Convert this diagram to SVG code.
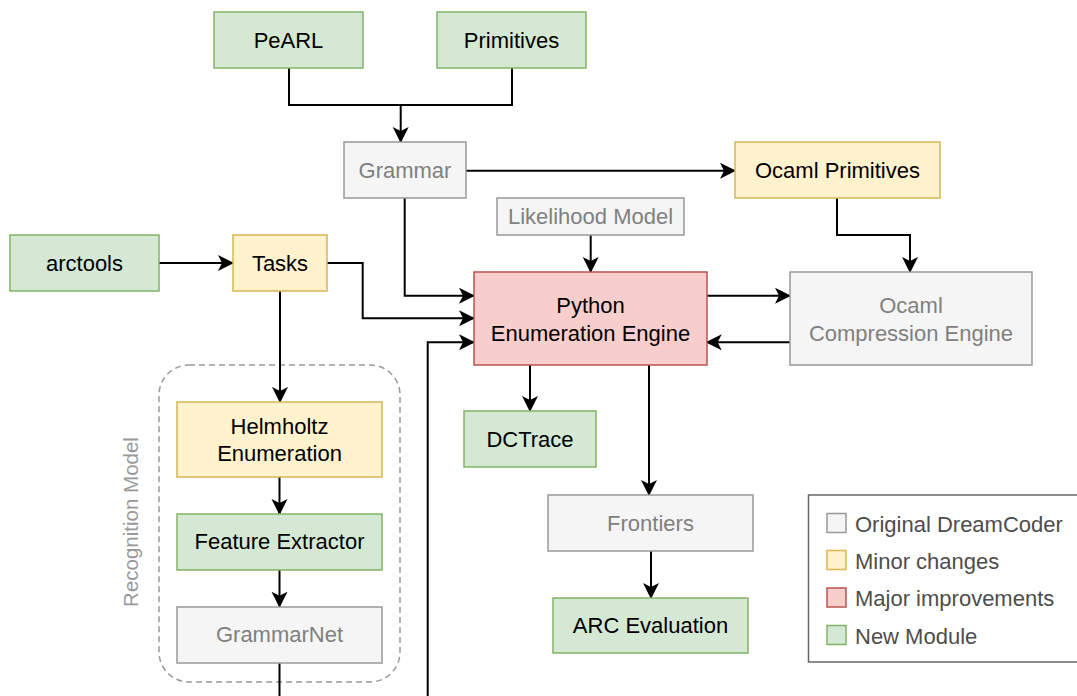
<svg xmlns="http://www.w3.org/2000/svg" width="1077" height="696" viewBox="0 0 1077 696">
<defs>
<marker id="ah" markerWidth="18" markerHeight="18" refX="15" refY="8" orient="auto" markerUnits="userSpaceOnUse">
<path d="M0,0 L16,8 L0,16 L4,8 Z" fill="#000"/>
</marker>
<style>
text{font-family:"Liberation Sans",Arial,sans-serif;font-size:22px;text-anchor:middle;dominant-baseline:central;fill:#000}
.g rect{fill:#d5e8d4;stroke:#82b366;stroke-width:1.5}
.y rect{fill:#fff2cc;stroke:#d6b656;stroke-width:1.5}
.r rect{fill:#f8cecc;stroke:#b85450;stroke-width:1.5}
.o rect{fill:#f5f5f5;stroke:#999999;stroke-width:1.5}
.o text{fill:#808080}
.c path{fill:none;stroke:#000;stroke-width:2}
.a{marker-end:url(#ah)}
.leg text{text-anchor:start;fill:#4d4d4d}
</style>
</defs>
<rect width="1077" height="696" fill="#fff"/>
<g id="recognition-model">
<rect x="159" y="365" width="241" height="317" rx="30" ry="30" fill="none" stroke="#999999" stroke-width="1.5" stroke-dasharray="6,4"/>
<text x="130" y="522" transform="rotate(-90 130 522)" style="fill:#999999;font-size:20.5px">Recognition Model</text>
</g>
<g class="c" id="connectors">
<path d="M289,68 V105 H512 V68"/>
<path class="a" d="M400.7,105 V142"/>
<path class="a" d="M466,170.7 H735"/>
<path class="a" d="M404.7,198 V295.7 H474"/>
<path class="a" d="M327,263 H362.7 V318.3 H474"/>
<path class="a" d="M427.7,696 V342.3 H474"/>
<path class="a" d="M590.7,235 V272"/>
<path class="a" d="M706.7,295.7 H790"/>
<path class="a" d="M790,342.3 H706.7"/>
<path class="a" d="M837,198 V235 H910 V272"/>
<path class="a" d="M159,263 H233"/>
<path class="a" d="M280,291 V402"/>
<path class="a" d="M279.5,477 V514"/>
<path class="a" d="M279.5,570 V606.7"/>
<path d="M279.5,662.7 V696"/>
<path class="a" d="M530,365 V411"/>
<path class="a" d="M649,365 V495"/>
<path class="a" d="M651,551 V598"/>
</g>
<g id="pearl" class="g"><rect x="214" y="12" width="149" height="56"/><text x="288.5" y="40">PeARL</text></g>
<g id="primitives" class="g"><rect x="437" y="12" width="149" height="56"/><text x="511.5" y="40">Primitives</text></g>
<g id="grammar" class="o"><rect x="344" y="142" width="122" height="56"/><text x="405" y="170">Grammar</text></g>
<g id="ocaml-primitives" class="y"><rect x="735" y="142" width="205" height="56"/><text x="837.5" y="170">Ocaml Primitives</text></g>
<g id="likelihood-model" class="o"><rect x="497" y="198" width="187" height="37"/><text x="590.5" y="216.5">Likelihood Model</text></g>
<g id="arctools" class="g"><rect x="10" y="235" width="149" height="56"/><text x="84.5" y="263">arctools</text></g>
<g id="tasks" class="y"><rect x="233" y="235" width="94" height="56"/><text x="280" y="263">Tasks</text></g>
<g id="python-engine" class="r"><rect x="474" y="272" width="233" height="93"/><text x="590.5" y="305">Python</text><text x="590.5" y="333">Enumeration Engine</text></g>
<g id="ocaml-compression" class="o"><rect x="790" y="272" width="242" height="93"/><text x="911" y="305">Ocaml</text><text x="911" y="333">Compression Engine</text></g>
<g id="helmholtz" class="y"><rect x="177" y="402" width="205" height="75"/><text x="279.5" y="426">Helmholtz</text><text x="279.5" y="453">Enumeration</text></g>
<g id="feature-extractor" class="g"><rect x="177" y="514" width="205" height="56"/><text x="279.5" y="541">Feature Extractor</text></g>
<g id="grammarnet" class="o"><rect x="177" y="607" width="205" height="56"/><text x="279.5" y="634">GrammarNet</text></g>
<g id="dctrace" class="g"><rect x="464" y="411" width="132" height="56"/><text x="530" y="439">DCTrace</text></g>
<g id="frontiers" class="o"><rect x="548" y="495" width="205" height="56"/><text x="650.5" y="523">Frontiers</text></g>
<g id="arc-evaluation" class="g"><rect x="553" y="598" width="195" height="55"/><text x="650.5" y="625">ARC Evaluation</text></g>
<g id="legend" class="leg">
<rect x="808.5" y="495" width="280" height="167" fill="#fff" stroke="#666666" stroke-width="1.5"/>
<rect x="827" y="513.5" width="19" height="19" fill="#f5f5f5" stroke="#999999" stroke-width="1.5"/>
<text x="855" y="524">Original DreamCoder</text>
<rect x="827" y="550.5" width="19" height="19" fill="#fff2cc" stroke="#d6b656" stroke-width="1.5"/>
<text x="855" y="561">Minor changes</text>
<rect x="827" y="588" width="19" height="19" fill="#f8cecc" stroke="#b85450" stroke-width="1.5"/>
<text x="855" y="598.5">Major improvements</text>
<rect x="827" y="625.5" width="19" height="19" fill="#d5e8d4" stroke="#82b366" stroke-width="1.5"/>
<text x="855" y="636">New Module</text>
</g>
</svg>
